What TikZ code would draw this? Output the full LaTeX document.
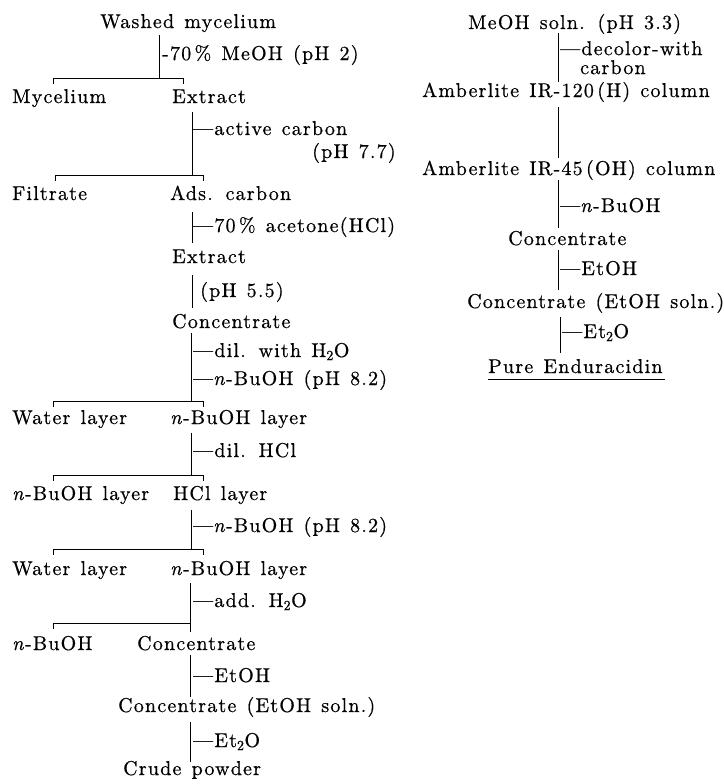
\documentclass[tikz,border=0pt]{standalone}
\usepackage{fontspec}
\setmainfont{lmroman10-regular.otf}[ItalicFont=lmroman10-italic.otf, LetterSpace=6, WordSpace=1.3, FakeBold=0.6]
\begin{document}
\begin{tikzpicture}[x=1pt,y=-1pt,
  txt/.style={anchor=base west,inner sep=0pt},
  conn/.style={line width=0.8pt},
  tick/.style={line width=0.7pt},
  font=\fontsize{20}{18}\selectfont]
\useasboundingbox (0,0) rectangle (723,784);
% ---------------- left column ----------------
\node[txt] (wm) at (100,28) {Washed mycelium};
\node[txt] (l1) at (162,60) {-70\,\% MeOH (pH 2)};
\node[txt] (myc) at (12,103) {Mycelium};
\node[txt] (ex1) at (172,103) {Extract};
\node[txt] (l2) at (193,135) {---active carbon};
\node[txt] (l2b) at (312,158) {(pH 7.7)};
\node[txt] (fil) at (12,200) {Filtrate};
\node[txt] (ads) at (170,200) {Ads. carbon};
\node[txt] (l3) at (193,232) {---70\,\% acetone(HCl)};
\node[txt] (ex2) at (172,263) {Extract};
\node[txt] (l4) at (200,297) {(pH 5.5)};
\node[txt] (con1) at (172,328) {Concentrate};
\node[txt] (l5) at (193,357) {---dil. with H\textsubscript{2}O};
\node[txt] (l6) at (193,385) {---\textit{n}-BuOH (pH 8.2)};
\node[txt] (wl1) at (12,424) {Water layer};
\node[txt] (bl1) at (170,424) {\textit{n}-BuOH layer};
\node[txt] (l7) at (193,457) {---dil. HCl};
\node[txt] (bl2) at (12,500) {\textit{n}-BuOH layer};
\node[txt] (hcl) at (173,500) {HCl layer};
\node[txt] (l8) at (193,532) {---\textit{n}-BuOH (pH 8.2)};
\node[txt] (wl2) at (12,575) {Water layer};
\node[txt] (bl3) at (170,575) {\textit{n}-BuOH layer};
\node[txt] (l9) at (193,607) {---add. H\textsubscript{2}O};
\node[txt] (bu) at (12,650) {\textit{n}-BuOH};
\node[txt] (con2) at (137,650) {Concentrate};
\node[txt] (l10) at (193,682) {---EtOH};
\node[txt] (con3) at (118,712) {Concentrate (EtOH soln.)};
\node[txt] (l11) at (193,747) {---Et\textsubscript{2}O};
\node[txt] (crude) at (123,775) {Crude powder};
% connectors left
\coordinate (a0) at (159,35);  \coordinate (a1) at (159,78);
\coordinate (b1l) at (53,78);  \coordinate (b1r) at (183,78);
\draw[conn] (a0) -- (a1);
\draw[conn] (b1l) -- (b1r);
\draw[tick] (b1l) -- ++(0,6); \draw[tick] (b1r) -- ++(0,6);

\coordinate (c0) at (192,112); \coordinate (c1) at (192,175);
\coordinate (b2l) at (55,175); \coordinate (b2r) at (203,175);
\draw[conn] (c0) -- (c1);
\draw[conn] (b2l) -- (b2r);
\draw[tick] (b2l) -- ++(0,6); \draw[tick] (b2r) -- ++(0,6);

\coordinate (d0) at (192,212); \coordinate (d1) at (192,243);
\draw[conn] (d0) -- (d1);
\coordinate (e0) at (192,275); \coordinate (e1) at (192,308);
\draw[conn] (e0) -- (e1);

\coordinate (f0) at (191,333); \coordinate (f1) at (191,401);
\coordinate (b3l) at (53,401); \coordinate (b3r) at (203,401);
\draw[conn] (f0) -- (f1);
\draw[conn] (b3l) -- (b3r);
\draw[tick] (b3l) -- ++(0,6); \draw[tick] (b3r) -- ++(0,6);

\coordinate (g0) at (191,433); \coordinate (g1) at (191,475);
\coordinate (b4l) at (53,475); \coordinate (b4r) at (203,475);
\draw[conn] (g0) -- (g1);
\draw[conn] (b4l) -- (b4r);
\draw[tick] (b4l) -- ++(0,6); \draw[tick] (b4r) -- ++(0,6);

\coordinate (h0) at (191,510); \coordinate (h1) at (191,549);
\coordinate (b5l) at (53,549); \coordinate (b5r) at (203,549);
\draw[conn] (h0) -- (h1);
\draw[conn] (b5l) -- (b5r);
\draw[tick] (b5l) -- ++(0,6); \draw[tick] (b5r) -- ++(0,6);

\coordinate (i0) at (190,583); \coordinate (i1) at (190,632);
\coordinate (b6l) at (53,623); \coordinate (b6r) at (190,623);
\draw[conn] (i0) -- (i1);
\draw[conn] (b6l) -- (b6r);
\draw[tick] (b6l) -- ++(0,6);

\coordinate (j0) at (190,655); \coordinate (j1) at (190,697);
\draw[conn] (j0) -- (j1);
\coordinate (k0) at (190,722); \coordinate (k1) at (190,762);
\draw[conn] (k0) -- (k1);
% ---------------- right column ----------------
\node[txt] (meoh) at (468,29) {MeOH soln. (pH 3.3)};
\node[anchor=north west,inner sep=0pt,align=left] (r1) at (560,41)
  {---decolor-with\\[1pt]\phantom{---}carbon};
\node[txt] (am1) at (422,97) {Amberlite IR-120\,(H) column};
\node[txt] (am2) at (422,175) {Amberlite IR-45\,(OH) column};
\node[txt] (r2) at (560,212) {---\textit{n}-BuOH};
\node[txt] (rc1) at (508,245) {Concentrate};
\node[txt] (r3) at (560,275) {---EtOH};
\node[txt] (rc2) at (467,308) {Concentrate (EtOH soln.)};
\node[txt] (r4) at (562,338) {---Et\textsubscript{2}O};
\node[txt] (pure) at (488,373) {Pure Enduracidin};
\coordinate (u0) at (488,379); \coordinate (u1) at (665,379);
\draw[conn] (u0) -- (u1);

\coordinate (m0) at (558,33);  \coordinate (m1) at (558,82);
\draw[conn] (m0) -- (m1);
\coordinate (n0) at (558,107); \coordinate (n1) at (558,158);
\draw[conn] (n0) -- (n1);
\coordinate (o0) at (558,180); \coordinate (o1) at (558,228);
\draw[conn] (o0) -- (o1);
\coordinate (p0) at (558,250); \coordinate (p1) at (558,290);
\draw[conn] (p0) -- (p1);
\coordinate (q0) at (560,317); \coordinate (q1) at (560,353);
\draw[conn] (q0) -- (q1);
\end{tikzpicture}
\end{document}
